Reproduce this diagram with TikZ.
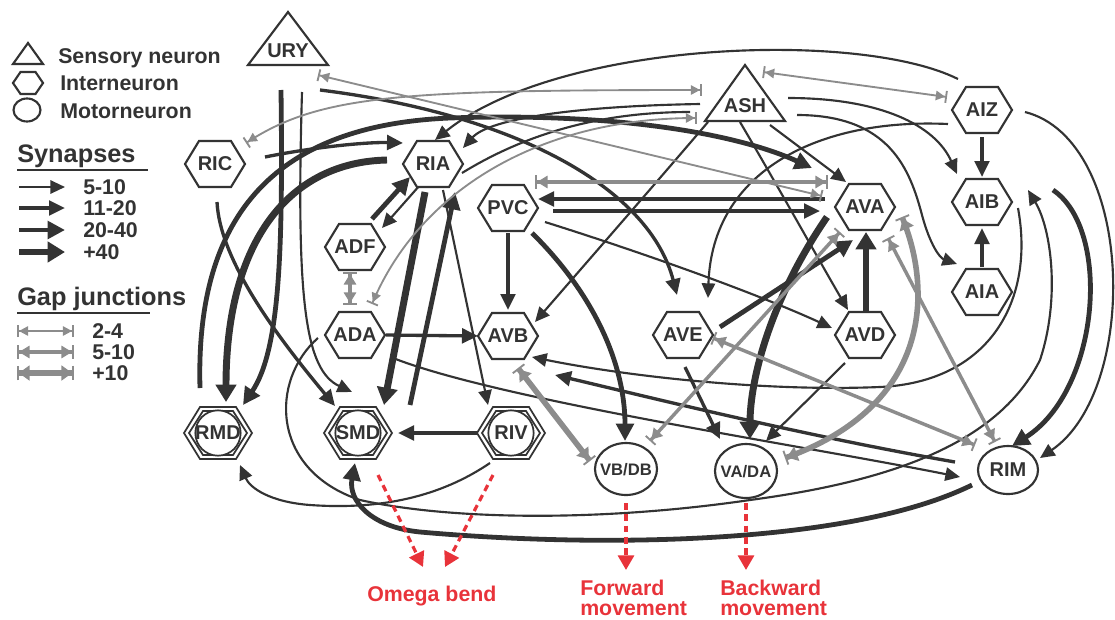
\documentclass[tikz,border=0pt]{standalone}
\usepackage{fontspec}
\setmainfont{Liberation Sans}
\usetikzlibrary{arrows.meta,calc}
\definecolor{dk}{HTML}{333333}
\definecolor{gy}{HTML}{8C8C8C}
\definecolor{rd}{HTML}{E8333A}
\pgfdeclarelayer{bg}
\pgfsetlayers{bg,main}
\tikzset{
 nline/.style={draw=dk, line width=1.6pt, fill=white, line join=miter},
 mline/.style={draw=dk, line width=1.3pt, fill=white},
 lbl/.style={font=\fontsize{15}{18}\selectfont\bfseries, text=dk, inner sep=0pt},
 lbls/.style={font=\fontsize{12.5}{15}\selectfont\bfseries, text=dk, inner sep=0pt},
 leg/.style={font=\fontsize{16}{18}\selectfont\bfseries, text=dk, inner sep=0pt},
 ttl/.style={font=\fontsize{19}{21}\selectfont\bfseries, text=dk, inner sep=0pt},
 redt/.style={font=\fontsize{16}{15}\selectfont\bfseries, text=rd, inner sep=0pt, align=left},
 syn1/.style={draw=dk, line width=1.6pt, -{Triangle[length=11pt,width=10pt]}},
 syn2/.style={draw=dk, line width=2.5pt, -{Triangle[length=12pt,width=11pt]}},
 syn3/.style={draw=dk, line width=3.6pt, -{Triangle[length=13pt,width=13pt]}},
 syn4/.style={draw=dk, line width=5.2pt, -{Triangle[length=13pt,width=15pt]}},
 plainl/.style={draw=dk, line width=1.6pt},
 gap1/.style={draw=gy, line width=1.4pt, {Bar[width=9pt,line width=1.4pt]Triangle[length=7pt,width=7pt]}-{Triangle[length=7pt,width=7pt]Bar[width=9pt,line width=1.4pt]}},
 gap2/.style={draw=gy, line width=2.6pt, {Bar[width=10pt,line width=1.4pt]Triangle[length=8pt,width=9pt]}-{Triangle[length=8pt,width=9pt]Bar[width=10pt,line width=1.4pt]}},
 gap3/.style={draw=gy, line width=4.2pt, {Bar[width=11pt,line width=1.4pt]Triangle[length=8pt,width=11pt]}-{Triangle[length=8pt,width=11pt]Bar[width=11pt,line width=1.4pt]}},
 omg/.style={draw=rd, line width=2.4pt, dash pattern=on 5pt off 3.5pt, -{Triangle[length=11pt,width=12pt]}},
 hexa/.pic={\path[nline] (-30,0) -- (-16,-23) -- (16,-23) -- (30,0) -- (16,23) -- (-16,23) -- cycle;},
 motor/.pic={\path[mline] (-34,0) -- (-18,-26) -- (18,-26) -- (34,0) -- (18,26) -- (-18,26) -- cycle;
   \path[mline] (-29,0) -- (-15,-22) -- (15,-22) -- (29,0) -- (15,22) -- (-15,22) -- cycle;
   \path[mline] (0,0) circle[radius=17pt];},
}
\begin{document}
\begin{tikzpicture}[x=0.75pt,y=-0.75pt]
\useasboundingbox (0,0) rectangle (1115,619);
% ---------- legend ----------
\path[nline] (13,64) -- (28,43) -- (43,64) -- cycle;
\path[nline] (13,83) -- (20.5,72) -- (35.5,72) -- (43,83) -- (35.5,94) -- (20.5,94) -- cycle;
\path[nline] (27,110) ellipse[x radius=13.5, y radius=11.5];
\node[leg, anchor=base west] (tsens) at (58,63) {Sensory neuron};
\node[leg, anchor=base west] (tint) at (60,90) {Interneuron};
\node[leg, anchor=base west] (tmot) at (60,118) {Motorneuron};
\node[ttl, anchor=base west] (tsyn) at (17,162) {Synapses};
\draw[dk, line width=1.2pt] (17,170) -- (148,170);
\node[ttl, anchor=base west] (tgap) at (17,305) {Gap junctions};
\draw[dk, line width=1.2pt] (17,313) -- (150,313);
\foreach \yy/\st/\tx/\nm in {187/syn1/5-10/a,208/syn2/11-20/b,230/syn3/20-40/c,252/syn4/+40/d}{
  \coordinate (ls\nm) at (19,\yy); \coordinate (le\nm) at (65,\yy);
  \draw[\st] (ls\nm) -- (le\nm);
  \node[leg, anchor=west] (lt\nm) at (83,\yy) {\tx};
}
\foreach \yy/\st/\tx/\nm in {331/gap1/2-4/a,352/gap2/5-10/b,373/gap3/+10/c}{
  \coordinate (gs\nm) at (17,\yy); \coordinate (ge\nm) at (74,\yy);
  \draw[\st] (gs\nm) -- (ge\nm);
  \node[leg, anchor=west] (gt\nm) at (92,\yy) {\tx};
}
% ---------- neurons ----------
\path[nline] (248,65) -- (288,12) -- (328,65) -- cycle;
\node[lbl] (URY) at (288,51) {URY};
\path[nline] (705,121) -- (745,65) -- (785,121) -- cycle;
\node[lbl] (ASH) at (745,106) {ASH};
\foreach \nm/\xx/\yy in {RIC/215/164, RIA/433/164, ADF/355/247, PVC/508/208, AVA/865/207, AIZ/982/110, AIB/982/202, AIA/982/292, ADA/355/335, AVB/508/336, AVE/683/335, AVD/865/335}{
  \pic at (\xx,\yy) {hexa};
  \node[lbl] (\nm) at (\xx,\yy) {\nm};
}
\foreach \nm/\xx/\yy in {RMD/218/433, SMD/358/433, RIV/511/433}{
  \pic at (\xx,\yy) {motor};
  \node[lbl] (\nm) at (\xx,\yy) {\nm};
}
\path[nline] (626,469) ellipse[x radius=31, y radius=26];
\node[lbls] (VBDB) at (626,470) {VB/DB};
\path[nline] (746,471) ellipse[x radius=31, y radius=27];
\node[lbls] (VADA) at (746,472) {VA/DA};
\path[nline] (1008,470) ellipse[x radius=30, y radius=24];
\node[lbl] (RIM) at (1008,470) {RIM};
% ---------- outputs ----------
\node[redt, anchor=north west] (omega) at (367,586) {Omega bend};
\node[redt, anchor=north west] (fwd) at (580,580) {Forward\\movement};
\node[redt, anchor=north west] (bwd) at (720,580) {Backward\\movement};
% ---------- connectors ----------
\begin{pgfonlayer}{bg}
\draw[syn3] ([shift={(-18,-45)}]RMD.center) .. controls (195,210) and (280,125) .. (450,118) .. controls (620,112) and (740,135) .. ([shift={(-53,-39)}]AVA.center);
\draw[syn4] ([shift={(-46,-4)}]RIA.center) .. controls (290,162) and (226,240) .. ([shift={(8,-31)}]RMD.center);
\draw[syn2] ([shift={(50,-7)}]RIC.center) .. controls (320,146) and (370,142) .. ([shift={(-30,-21)}]RIA.center);
\draw[syn3] ([shift={(-7,39)}]URY.center) .. controls (283,250) and (280,350) .. ([shift={(25,-28)}]RMD.center);
\draw[syn1] ([shift={(14,41)}]URY.center) .. controls (296,300) and (305,370) .. ([shift={(-6,-41)}]SMD.center);
\draw[syn2] ([shift={(2,38)}]RIC.center) .. controls (220,262) and (280,340) .. ([shift={(-23,-27)}]SMD.center);
\draw[syn2] ([shift={(32,39)}]URY.center) .. controls (520,115) and (650,190) .. ([shift={(-6,-40)}]AVE.center);
\draw[syn1] ([shift={(-24,-31)}]AIZ.center) .. controls (860,30) and (560,40) .. ([shift={(2,-24)}]RIA.center);
\draw[syn1] ([shift={(-45,-2)}]ASH.center) .. controls (580,106) and (490,118) .. ([shift={(30,-16)}]RIA.center);
\draw[plainl] ([shift={(29,9)}]RIA.center) .. controls (540,125) and (620,112) .. ([shift={(-55,6)}]ASH.center);
\draw[syn1] ([shift={(43,-8)}]ASH.center) .. controls (880,98) and (935,125) .. ([shift={(-25,-28)}]AIB.center);
\draw[syn1] ([shift={(52,9)}]ASH.center) .. controls (890,115) and (910,170) .. (922,215) .. controls (930,245) and (940,258) .. ([shift={(-25,-28)}]AIA.center);
\draw[syn1] ([shift={(-34,14)}]AIZ.center) .. controls (820,118) and (712,170) .. ([shift={(25,-37)}]AVE.center);
\draw[syn1] ([shift={(-37,16)}]ASH.center) .. controls (650,190) and (580,270) .. ([shift={(27,-14)}]AVB.center);
\draw[syn1] ([shift={(-5,16)}]ASH.center) .. controls (780,190) and (820,262) .. ([shift={(-17,-25)}]AVD.center);
\draw[syn1] ([shift={(25,19)}]ASH.center) -- ([shift={(-19,-25)}]AVA.center);
\draw[syn2] ([shift={(0,27)}]AIZ.center) -- ([shift={(0,-25)}]AIB.center);
\draw[syn2] ([shift={(0,-25)}]AIA.center) -- ([shift={(0,26)}]AIB.center);
\draw[syn1] ([shift={(43,2)}]AIZ.center) .. controls (1135,140) and (1140,390) .. ([shift={(32,-12)}]RIM.center);
\draw[syn3] ([shift={(71,-12)}]AIB.center) .. controls (1112,230) and (1100,390) .. ([shift={(4,-24)}]RIM.center);
\draw[syn1] ([shift={(-37,3)}]ADA.center) .. controls (270,380) and (270,470) .. (360,500) .. controls (450,520) and (600,522) .. (750,500) .. controls (900,480) and (1000,440) .. (1040,360) .. controls (1060,300) and (1052,230) .. ([shift={(46,-12)}]AIB.center);
\draw[syn1] ([shift={(36,6)}]AIB.center) .. controls (1035,300) and (990,382) .. (880,387) .. controls (760,392) and (620,375) .. ([shift={(24,21)}]AVB.center);
\draw[syn2] ([shift={(-53,-8)}]RIM.center) .. controls (800,435) and (640,395) .. ([shift={(47,39)}]AVB.center);
\draw[syn1] ([shift={(38,23)}]ADA.center) .. controls (500,400) and (800,445) .. ([shift={(-48,7)}]RIM.center);
\draw[syn3] ([shift={(-36,15)}]RIM.center) .. controls (850,545) and (600,548) .. (420,532) .. controls (370,527) and (348,500) .. ([shift={(-3,30)}]SMD.center);
\draw[syn1] ([shift={(-21,30)}]RIV.center) .. controls (440,497) and (380,510) .. (310,505) .. controls (270,502) and (250,488) .. ([shift={(22,32)}]RMD.center);
\draw[syn2] ([shift={(-27,0)}]RIV.center) -- ([shift={(40,0)}]SMD.center);
\draw[syn1] ([shift={(10,26)}]RIA.center) -- ([shift={(-23,-28)}]RIV.center);
\draw[syn4] ([shift={(-8,28)}]RIA.center) -- ([shift={(26,-28)}]SMD.center);
\draw[syn3] ([shift={(52,-28)}]SMD.center) -- ([shift={(22,28)}]RIA.center);
\draw[syn3] ([shift={(17,-28)}]ADF.center) -- ([shift={(-23,13)}]RIA.center);
\draw[syn1] ([shift={(-13,21)}]RIA.center) -- ([shift={(27,-19)}]ADF.center);
\draw[syn2] ([shift={(31,0)}]ADA.center) -- ([shift={(-30,0)}]AVB.center);
\draw[syn2] ([shift={(0,25)}]PVC.center) -- ([shift={(0,-26)}]AVB.center);
\draw[syn3] ([shift={(24,25)}]PVC.center) .. controls (590,290) and (625,360) .. ([shift={(-1,-29)}]VBDB.center);
\draw[syn1] ([shift={(37,14)}]PVC.center) .. controls (650,255) and (760,295) .. ([shift={(-33,-7)}]AVD.center);
\draw[syn2] ([shift={(-40,-8)}]AVA.center) -- ([shift={(30,-9)}]PVC.center);
\draw[syn2] ([shift={(45,3)}]PVC.center) -- ([shift={(-45,4)}]AVA.center);
\draw[syn4] ([shift={(1,-23)}]AVD.center) -- ([shift={(1,25)}]AVA.center);
\draw[syn3] ([shift={(37,-8)}]AVE.center) -- ([shift={(-12,33)}]AVA.center);
\draw[syn4] ([shift={(-38,10)}]AVA.center) .. controls (770,300) and (750,380) .. ([shift={(4,-33)}]VADA.center);
\draw[syn2] ([shift={(2,32)}]AVE.center) -- ([shift={(-26,-33)}]VADA.center);
\draw[syn1] ([shift={(-20,28)}]AVD.center) -- ([shift={(20,-31)}]VADA.center);
% gap junctions
\draw[gap1] ([shift={(30,24)}]URY.center) -- ([shift={(-43,-11)}]AVA.center);
\draw[gap1] ([shift={(31,-21)}]RIC.center) .. controls (320,95) and (400,90) .. ([shift={(-43,-16)}]ASH.center);
\draw[gap1] ([shift={(17,-31)}]ADA.center) .. controls (420,190) and (540,118) .. ([shift={(-48,12)}]ASH.center);
\draw[gap1] ([shift={(18,-34)}]ASH.center) -- ([shift={(-35,-13)}]AIZ.center);
\draw[gap2] ([shift={(27,-26)}]PVC.center) -- ([shift={(-37,-25)}]AVA.center);
\draw[gap2] ([shift={(-5,25)}]ADF.center) -- ([shift={(-5,-30)}]ADA.center);
\draw[gap2] ([shift={(-25,25)}]AVA.center) -- ([shift={(24,-29)}]VBDB.center);
\draw[gap3] ([shift={(37,10)}]AVA.center) .. controls (932,290) and (932,405) .. ([shift={(39,-14)}]VADA.center);
\draw[gap2] ([shift={(23,31)}]AVA.center) -- ([shift={(-13,-28)}]RIM.center);
\draw[gap2] ([shift={(30,3)}]AVE.center) -- ([shift={(-33,-25)}]RIM.center);
\draw[gap3] ([shift={(10,32)}]AVB.center) -- ([shift={(-36,-9)}]VBDB.center);
% outputs
\draw[omg] ([shift={(20,42)}]SMD.center) -- ([shift={(56,-19)}]omega.north west);
\draw[omg] ([shift={(-18,42)}]RIV.center) -- ([shift={(78,-19)}]omega.north west);
\draw[omg] ([shift={(0,33)}]VBDB.center) -- ([shift={(46,-10)}]fwd.north west);
\draw[omg] ([shift={(0,31)}]VADA.center) -- ([shift={(26,-10)}]bwd.north west);
\end{pgfonlayer}
\end{tikzpicture}
\end{document}
